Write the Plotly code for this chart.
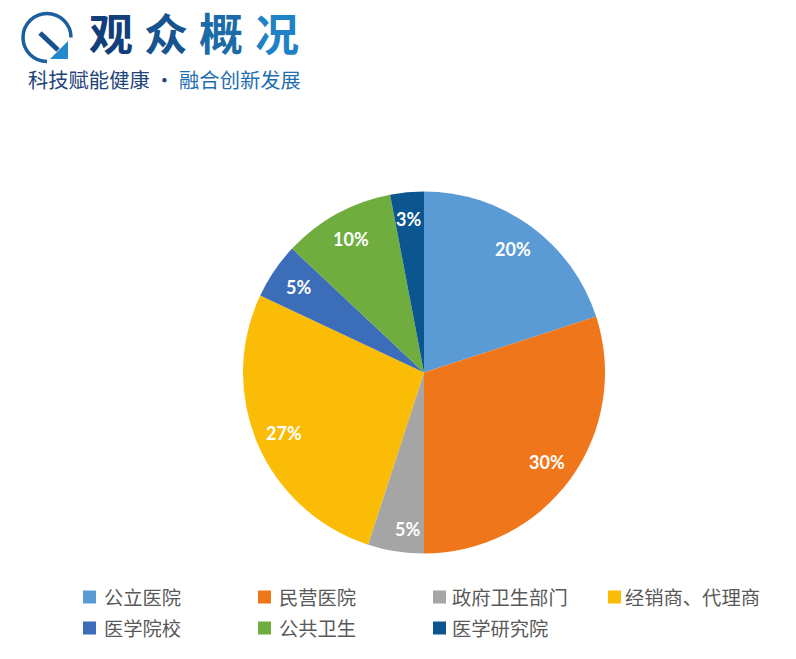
# 观众概况 pie
import numpy as np
import plotly.graph_objects as go

# ---------- data ----------
categories = ["公立医院", "民营医院", "政府卫生部门", "经销商、代理商", "医学院校", "公共卫生", "医学研究院"]
shares = [20, 30, 5, 27, 5, 10, 3]
slice_colors = ["#5B9BD5", "#F0761B", "#A5A5A5", "#FBBC05", "#3B6DB8", "#70AD3F", "#0B5590"]
title_chars = ["观", "众", "概", "况"]
title_colors = ["#123E7C", "#17548F", "#1B6BA8", "#1F82C6"]

W, H = 796, 659
CX, CY, R = 424, 372.5, 181


def px_x(x):
    return x / W


def px_y(y):
    return 1 - y / H


def seg(*pts):
    # "x y" pairs for a path, given in pixels
    return " ".join(f"{px_x(x)} {px_y(y)}" for x, y in pts)


fig = go.Figure()

fig.add_trace(go.Pie(
    labels=categories,
    values=shares,
    sort=False,
    direction="clockwise",
    rotation=0,
    marker=dict(colors=slice_colors, line=dict(width=0)),
    textinfo="none",
    hoverinfo="label+percent",
    domain=dict(x=[px_x(CX - R), px_x(CX + R)], y=[px_y(CY + R), px_y(CY - R)]),
))

# percent labels sit further out than plotly puts them, so place by mid angle
# the thin grey and dark blue slices need a small nudge
nudges = {2: (7, 6), 6: (-1, -2)}
mids = (np.cumsum(shares) - np.array(shares) / 2) / sum(shares) * 2 * np.pi
for i, (val, ang) in enumerate(zip(shares, mids)):
    dx, dy = nudges.get(i, (0, 0))
    fig.add_annotation(text=f"<b>{val}%</b>", xref="paper", yref="paper",
                       x=px_x(CX + 0.84 * R * np.sin(ang) + dx),
                       y=px_y(CY - 0.84 * R * np.cos(ang) + dy),
                       showarrow=False, xanchor="center", yanchor="middle",
                       font=dict(family="Lato", size=18, color="white"))

# legend, 4 columns with uneven text offset like the original
swatch_x = [83, 258, 433, 608]
text_x = [102, 277, 450, 623]
row_y = [597, 628]
for i, (name, col) in enumerate(zip(categories, slice_colors)):
    c, r = i % 4, i // 4
    fig.add_shape(type="rect", xref="paper", yref="paper",
                  x0=px_x(swatch_x[c]), x1=px_x(swatch_x[c] + 13),
                  y0=px_y(row_y[r] + 6.5), y1=px_y(row_y[r] - 6.5),
                  fillcolor=col, line=dict(width=0))
    fig.add_annotation(text=name, xref="paper", yref="paper",
                       x=px_x(text_x[c]), y=px_y(row_y[r]),
                       xanchor="left", yanchor="middle", showarrow=False,
                       font=dict(family="Noto Sans CJK SC", size=19.3, color="#595959"))

# logo: ring and arrow (plotly paths have no arcs, so beziers)
ring = ("M " + seg((71, 37.5))
        + " C " + seg((71, 24.25), (60.25, 13.5), (47, 13.5))
        + " C " + seg((33.75, 13.5), (23, 24.25), (23, 37.5))
        + " C " + seg((23, 50.75), (33.75, 61.5), (47, 61.5)))
fig.add_shape(type="path", xref="paper", yref="paper", path=ring,
              line=dict(color="#1C5F9E", width=3.5))
fig.add_shape(type="line", xref="paper", yref="paper",
              x0=px_x(40), y0=px_y(33), x1=px_x(58), y1=px_y(50),
              line=dict(color="#17528F", width=5))
fig.add_shape(type="path", xref="paper", yref="paper",
              path="M " + seg((68, 41)) + " L " + seg((68, 59)) + " L " + seg((50, 59)) + " Z",
              fillcolor="#2388CC", line=dict(width=0))

# logo: title and slogan
title_x = [111, 166, 221, 277]
for t, c, x in zip(title_chars, title_colors, title_x):
    fig.add_annotation(text=f"<b>{t}</b>", xref="paper", yref="paper",
                       x=px_x(x), y=px_y(32), xanchor="center", yanchor="middle", showarrow=False,
                       font=dict(family="Noto Sans CJK SC", size=44, color=c))
fig.add_annotation(text='<span style="color:#1E4479">科技赋能健康 · </span><span style="color:#1F6FB0">融合创新发展</span>',
                   xref="paper", yref="paper", x=px_x(164.5), y=px_y(79.5),
                   xanchor="center", yanchor="middle", showarrow=False,
                   font=dict(family="Noto Sans CJK SC", size=20.3))

fig.update_layout(
    width=W,
    height=H,
    autosize=False,
    margin=dict(l=0, r=0, t=0, b=0),
    paper_bgcolor="white",
    showlegend=False,
)

# page has a default 8px body margin that shifts everything
fig.write_html("out.html", config=dict(displayModeBar=False),
               post_script="document.body.style.margin='0';")
